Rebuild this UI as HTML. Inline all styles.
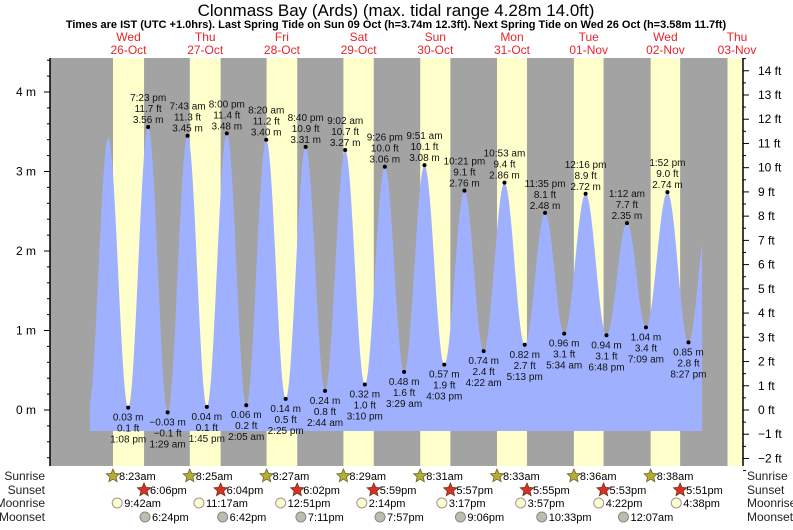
<!DOCTYPE html>
<html><head><meta charset="utf-8"><style>
body{margin:0;background:#fff;font-family:"Liberation Sans",sans-serif;}
svg text{font-family:"Liberation Sans",sans-serif;}
</style></head><body>
<svg id="c" width="793" height="525" xmlns="http://www.w3.org/2000/svg">
<text x="396" y="16" text-anchor="middle" font-size="17" fill="#000">Clonmass Bay (Ards) (max. tidal range 4.28m 14.0ft)</text>
<text x="396" y="28" text-anchor="middle" font-size="11" font-weight="bold" fill="#000">Times are IST (UTC +1.0hrs). Last Spring Tide on Sun 09 Oct (h=3.74m 12.3ft). Next Spring Tide on Wed 26 Oct (h=3.58m 11.7ft)</text>
<g id="g"></g>
</svg>
<script>
// Data
const dayNames = ["Wed","Thu","Fri","Sat","Sun","Mon","Tue","Wed","Thu"];
const dayDates = ["26-Oct","27-Oct","28-Oct","29-Oct","30-Oct","31-Oct","01-Nov","02-Nov","03-Nov"];
// tide extremes: [day index, hour (decimal), height m, label text time, labelled?]
const tideDays = [0,0,0,0, 1,1,1,1, 2,2,2,2, 3,3,3,3, 4,4,4,4, 5,5,5,5, 6,6,6, 7,7,7,7, 8];
const tideHours = [0.75,6.9,13.13,19.38, 1.48,7.72,13.75,20.0, 2.08,8.33,14.42,20.67, 2.73,9.03,15.17,21.43, 3.48,9.85,16.05,22.35, 4.37,10.88,17.22,23.58, 5.57,12.27,18.8, 1.2,7.15,13.87,20.45, 2.6];
const tideHeights = [0.05,3.42,0.03,3.56, -0.03,3.45,0.04,3.48, 0.06,3.40,0.14,3.31, 0.24,3.27,0.32,3.06, 0.48,3.08,0.57,2.76, 0.74,2.86,0.82,2.48, 0.96,2.72,0.94, 2.35,1.04,2.74,0.85, 2.45];
const tideTimes = ["","","1:08 pm","7:23 pm","1:29 am","7:43 am","1:45 pm","8:00 pm","2:05 am","8:20 am","2:25 pm","8:40 pm","2:44 am","9:02 am","3:10 pm","9:26 pm","3:29 am","9:51 am","4:03 pm","10:21 pm","4:22 am","10:53 am","5:13 pm","11:35 pm","5:34 am","12:16 pm","6:48 pm","1:12 am","7:09 am","1:52 pm","8:27 pm",""];
const sunriseHours = [8.383,8.417,8.45,8.483,8.517,8.55,8.6,8.633,8.667];
const sunriseLabels = ["8:23am","8:25am","8:27am","8:29am","8:31am","8:33am","8:36am","8:38am"];
const sunsetHours = [18.1,18.067,18.033,17.983,17.95,17.917,17.883,17.85];
const sunsetLabels = ["6:06pm","6:04pm","6:02pm","5:59pm","5:57pm","5:55pm","5:53pm","5:51pm"];
const moonriseHours = [9.7,11.283,12.85,14.233,15.283,15.95,16.367,16.633];
const moonriseLabels = ["9:42am","11:17am","12:51pm","2:14pm","3:17pm","3:57pm","4:22pm","4:38pm"];
const moonsetDays = [0,1,2,3,4,5,7];
const moonsetHours = [18.4,18.7,19.183,19.95,21.1,22.55,0.117];
const moonsetLabels = ["6:24pm","6:42pm","7:11pm","7:57pm","9:06pm","10:33pm","12:07am"];
const mTicks = [0,1,2,3,4];
const ftTicks = [-2,-1,0,1,2,3,4,5,6,7,8,9,10,11,12,13,14];

const NS="http://www.w3.org/2000/svg";
const g=document.getElementById('g');
const X0=86.2, DAY=76.7, PL=50, PR=743, PT=58, PB=466;
const tx=(d,h)=>X0+d*DAY+h*DAY/24;
const ym=m=>410-m*79.5;
function el(t,a,txt){const e=document.createElementNS(NS,t);for(const k in a)e.setAttribute(k,a[k]);if(txt!==undefined)e.textContent=txt;g.appendChild(e);return e;}

let e=el('rect',{x:PL,y:PT,width:PR-PL,height:PB-PT,fill:'#a3a3a3'});


for(let d=0;d<9;d++){
  const x1=tx(d,sunriseHours[d]);
  const x2=Math.min(d<8?tx(d,sunsetHours[d]):PR,PR);
  e=el('rect',{x:x1,y:PT,width:x2-x1,height:PB-PT,fill:'#ffffcc'});
  
  
  const cx=d<8?(x1+x2)/2:737;
  e=el('text',{x:cx,y:41,'text-anchor':'middle','font-size':12,fill:'#e8252a'},dayNames[d]);
  
  
  e=el('text',{x:cx,y:54,'text-anchor':'middle','font-size':12,fill:'#e8252a'},dayDates[d]);
  
  
}
// tide curve
const xs=tideDays.map((d,i)=>tx(d,tideHours[i]));
const xStart=90, xEnd=702, yBase=431;
let pts=[];
for(let x=xStart;x<=xEnd;x+=1){
  let v;
  if(x<=xs[0])v=tideHeights[0];
  else{let i=0;while(i<xs.length-2&&x>xs[i+1])i++;
    const f=(x-xs[i])/(xs[i+1]-xs[i]);
    v=tideHeights[i]+(tideHeights[i+1]-tideHeights[i])*(1-Math.cos(Math.PI*f))/2;}
  pts.push(x.toFixed(1)+','+ym(v).toFixed(1));
}
e=el('path',{d:'M'+xStart+','+yBase+' L'+pts.join(' L')+' L'+xEnd+','+yBase+' Z',fill:'#9fb1fe'});


// labels
for(let i=0;i<xs.length;i++){
  if(!tideTimes[i])continue;
  const x=xs[i],y=ym(tideHeights[i]),h=tideHeights[i];
  const m=h.toFixed(2)+' m', ft=(h*3.2808).toFixed(1)+' ft';
  const hi=i>0&&h>tideHeights[i-1];
  e=el('circle',{cx:x,cy:y,r:2,fill:'#000'});
  
  
  const lines=hi?[tideTimes[i],ft,m]:[m,ft,tideTimes[i]];
  lines.forEach((t,k)=>{
    const yy=hi?y-4-(2-k)*11:y+13+k*11;
    e=el('text',{x:x,y:yy,'text-anchor':'middle','font-size':10,fill:'#111'},t.replace('-','\u2212'));
    
    
  });
}
// axes
el('line',{x1:PL,y1:PT,x2:PL,y2:PB,stroke:'#000','stroke-width':1.5});
el('line',{x1:PR,y1:PT,x2:PR,y2:PB,stroke:'#000','stroke-width':1.5});
for(let v=-0.6;v<=4.41;v+=0.2){const y=ym(v);const maj=Math.abs(v-Math.round(v))<0.01;
  el('line',{x1:PL-(maj?6:3),y1:y,x2:PL,y2:y,stroke:'#000'});}
mTicks.forEach(v=>{e=el('text',{x:36,y:ym(v)+4,'text-anchor':'end','font-size':12},v+' m');
  
  });
for(let f=-2.5;f<=14.6;f+=0.5){const y=ym(f/3.2808);const maj=Math.abs(f-Math.round(f))<0.01;
  el('line',{x1:PR,y1:y,x2:PR+(maj?6:3),y2:y,stroke:'#000'});}
ftTicks.forEach(f=>{e=el('text',{x:758,y:ym(f/3.2808)+4,'font-size':12},(''+f).replace('-','\u2212')+' ft');
  
  });
// rows
const rows=[["Sunrise",480],["Sunset",494],["Moonrise",507],["Moonset",521]];
rows.forEach(r=>{
  e=el('text',{x:45,y:r[1],'text-anchor':'end','font-size':12,fill:'#222'},r[0]);
  
  
  e=el('text',{x:747,y:r[1],'font-size':12,fill:'#222'},r[0]);
  
  
});
function star(cx,cy,fill,stroke){let p=[];for(let k=0;k<10;k++){const a=-Math.PI/2+k*Math.PI/5;const r=k%2?3.2:7;p.push((cx+r*Math.cos(a)).toFixed(1)+','+(cy+r*Math.sin(a)).toFixed(1));}
  return el('polygon',{points:p.join(' '),fill:fill,stroke:stroke,'stroke-width':0.8});}
for(let d=0;d<8;d++){
  let x=tx(d,sunriseHours[d]);
  e=star(x,476,'#b5ad3a','#6b6420');
  e=el('text',{x:x+6,y:480,'font-size':11},sunriseLabels[d]);
  x=tx(d,sunsetHours[d]);
  e=star(x,490,'#d63325','#7a2a1a');
  e=el('text',{x:x+6,y:494,'font-size':11},sunsetLabels[d]);
  x=tx(d,moonriseHours[d]);
  e=el('circle',{cx:x,cy:503,r:5,fill:'#ffffcc',stroke:'#999'});
  e=el('text',{x:x+7,y:507,'font-size':11},moonriseLabels[d]);
}
moonsetDays.forEach((d,i)=>{const x=tx(d,moonsetHours[i]);
  e=el('circle',{cx:x,cy:517,r:5,fill:'#bdbdad',stroke:'#888'});
  e=el('text',{x:x+7,y:521,'font-size':11},moonsetLabels[i]);
});
</script>
</body></html>
